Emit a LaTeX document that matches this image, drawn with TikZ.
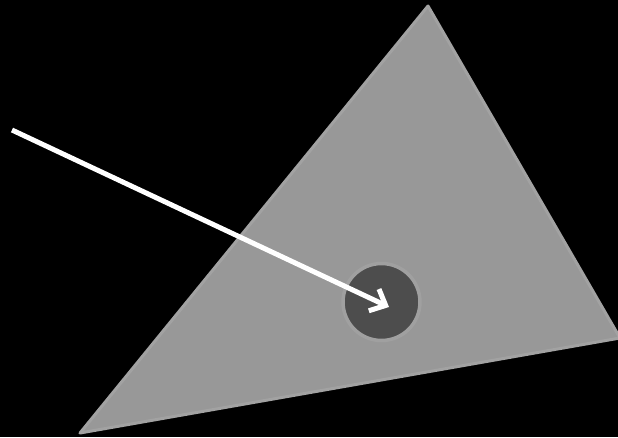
\documentclass[tikz,border=0pt]{standalone}
\usetikzlibrary{arrows.meta}
\definecolor{trifill}{HTML}{989898}
\definecolor{triedge}{HTML}{A2A2A2}
\definecolor{dotfill}{HTML}{4D4D4D}
\definecolor{dotedge}{HTML}{A0A0A0}
\tikzset{
  tri/.style={fill=trifill, draw=triedge, line width=3pt, line join=round},
  dot/.style={circle, fill=dotfill, draw=dotedge, line width=3.5pt, minimum size=77pt, inner sep=0pt},
  ray/.style={draw=white, line width=5pt, -{Straight Barb[length=13pt,width=24pt,line width=5pt]}}
}
\begin{document}
\begin{tikzpicture}[x=1pt,y=-1pt]
\fill[black] (0,0) rectangle (618,437);
\useasboundingbox (0,0) rectangle (618,437);
\coordinate (A) at (428,6);
\coordinate (B) at (620,338);
\coordinate (C) at (80,433);
\draw[tri] (A) -- (B) -- (C) -- cycle;
\node[dot] (D) at (381.5,302) {};
\coordinate (S) at (12,130);
\coordinate (T) at (389,307);
\draw[ray] (S) -- (T);
\end{tikzpicture}
\end{document}
